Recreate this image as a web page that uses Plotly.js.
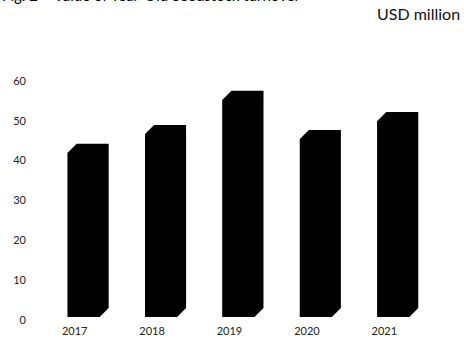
<!DOCTYPE html>
<html>
<head>
<meta charset="utf-8">
<script src="https://cdn.plot.ly/plotly-3.0.1.min.js"></script>
<style>html,body{margin:0;padding:0;background:#fff;}#chart{width:464px;height:338px;}</style>
</head>
<body>
<div id="chart"></div>
<script>
// Data
const years = ["2017", "2018", "2019", "2020", "2021"];
const values = [41.2, 45.9, 54.5, 44.7, 49.2];
const yTicks = [0, 10, 20, 30, 40, 50, 60];
const titleText = "Fig. 2 \u2013 Value of Year-Old Seedstock turnover";
const unitText = "USD million";

// 3D bar geometry (in axis units)
const frontWidth = 0.414;
const frontOffset = -0.091;   // left edge of front face relative to category position
const depthX = 0.116;
const depthY = 2.26;

const idx = years.map((_, i) => i);
const traces = [];

// 3D silhouettes (top and side faces)
idx.forEach(i => {
  const v = values[i];
  const x0 = i + frontOffset, x1 = x0 + frontWidth;
  traces.push({
    type: "scatter", mode: "lines", fill: "toself",
    x: [x0, x0, x0 + depthX, x1 + depthX, x1 + depthX, x1, x0],
    y: [0, v, v + depthY, v + depthY, depthY, 0, 0],
    line: {color: "#000", width: 0}, fillcolor: "#000",
    hoverinfo: "skip", showlegend: false
  });
});

// Front faces
traces.push({
  type: "bar", x: idx, y: values, width: frontWidth, offset: frontOffset,
  marker: {color: "#000", line: {width: 0}}, showlegend: false,
  hovertemplate: "%{y}<extra></extra>"
});

const layout = {
  width: 464, height: 338,
  margin: {l: 36, r: 41, t: 62, b: 21},
  paper_bgcolor: "#fff", plot_bgcolor: "#fff",
  font: {family: "Lato, 'Open Sans', sans-serif", color: "#222", size: 11},
  showlegend: false,
  xaxis: {
    type: "linear", range: [-0.5, 4.5],
    tickvals: idx, ticktext: years,
    showgrid: false, zeroline: false, showline: false, ticks: "",
    ticklabelstandoff: 6,
    tickfont: {size: 11, color: "#222"}
  },
  yaxis: {
    range: [0, 64], tickvals: yTicks,
    showgrid: false, zeroline: false, showline: false, ticks: "",
    ticklabelstandoff: 9, ticklabelshift: 3,
    tickfont: {size: 11, color: "#222"}
  },
  annotations: [
    {text: titleText, xref: "paper", yref: "paper", x: -36 / 387, y: 1 + (62 - 6) / 255,
     xanchor: "left", yanchor: "bottom", showarrow: false,
     font: {size: 15, color: "#000", family: "Lato, sans-serif"}},
    {text: unitText, xref: "paper", yref: "paper", x: 1 + (41 - 2) / 387, y: 1 + (62 - 13) / 255,
     xanchor: "right", yanchor: "middle", showarrow: false,
     font: {size: 16, color: "#111", family: "Lato, sans-serif"}}
  ]
};

Plotly.newPlot("chart", traces, layout, {displayModeBar: false, staticPlot: true});
</script>
</body>
</html>
